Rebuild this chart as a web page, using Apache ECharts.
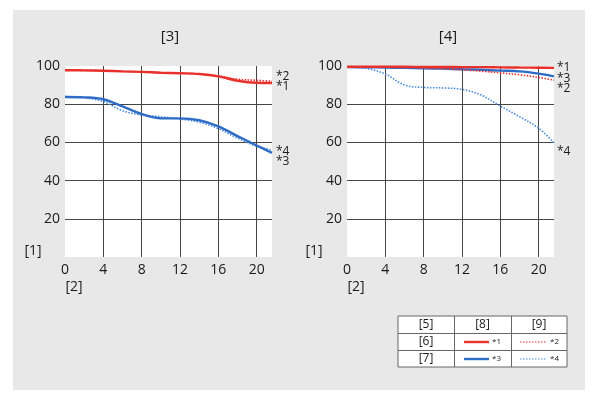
<!DOCTYPE html>
<html>
<head>
<meta charset="utf-8">
<script src="https://cdn.jsdelivr.net/npm/echarts@6/dist/echarts.min.js"></script>
<style>
html,body{margin:0;padding:0;background:#fff;}
#panel{position:absolute;left:13px;top:10px;width:572px;height:380px;background:#e8e8e8;}
#chart{position:absolute;left:0;top:0;width:600px;height:400px;}
</style>
</head>
<body>
<div id="panel"></div>
<div id="chart"></div>
<script>
// positions along image height (mm)
const xPos = [0, 2, 4, 6, 8, 10, 12, 14, 16, 18, 20, 21.6];
const xTicks = [0, 4, 8, 12, 16, 20];
const yTicks = [20, 40, 60, 80, 100];

// Left chart [3]
const left1 = [97.8, 97.7, 97.5, 97.2, 96.9, 96.5, 96.2, 95.8, 94.6, 92.3, 91.2, 91.1];
const left2 = [97.8, 97.7, 97.5, 97.2, 96.9, 96.5, 96.2, 95.8, 94.8, 93.1, 92.5, 92.0];
const left3 = [83.8, 83.6, 82.6, 78.8, 74.8, 72.6, 72.6, 71.6, 68.4, 63.3, 58.4, 54.5];
const left4 = [84.0, 83.4, 81.4, 76.6, 74.4, 73.4, 72.2, 70.6, 67.2, 62.2, 58.0, 56.0];

// Right chart [4]
const right1 = [99.6, 99.6, 99.6, 99.6, 99.5, 99.5, 99.4, 99.4, 99.3, 99.2, 99.1, 99.0];
const right2 = [99.5, 99.5, 99.4, 99.2, 99.0, 98.6, 98.0, 97.3, 96.4, 95.4, 94.0, 92.6];
const right3 = [99.4, 99.3, 99.2, 99.0, 98.8, 98.6, 98.3, 98.0, 97.6, 97.2, 96.0, 94.6];
const right4 = [99.6, 98.8, 95.8, 90.0, 88.8, 88.5, 87.8, 84.8, 79.0, 73.5, 67.4, 59.8];

const titles = ['[3]', '[4]'];
const yName = '[1]';
const xName = '[2]';
const tableHeader = ['[5]', '[8]', '[9]'];
const tableRows = ['[6]', '[7]'];
const seriesTags = ['*1', '*2', '*3', '*4'];

const RED = '#e8302c';
const BLUE = '#2e6cc6';
const BLUE_D = '#4a8bd8';
const FONT = '"Open Sans", "Noto Sans", sans-serif';

const pair = arr => arr.map((v, i) => [xPos[i], v]);

const grids = [
  {left: 65, top: 66, width: 207, height: 191},
  {left: 347, top: 66, width: 207, height: 191}
];

function xAxis(idx) {
  return {
    type: 'value', gridIndex: idx, min: 0, max: 21.6, interval: 4,
    axisLine: {show: false}, axisTick: {show: false},
    axisLabel: {color: '#1a1a1a', fontSize: 14, fontFamily: FONT, margin: 6,
      formatter: v => xTicks.includes(v) ? String(v) : ''},
    splitLine: {show: true, lineStyle: {color: ['rgba(0,0,0,0)', '#444', '#444', '#444', '#444', '#444', 'rgba(0,0,0,0)'], width: 1}}
  };
}
function yAxis(idx) {
  return {
    type: 'value', gridIndex: idx, min: 0, max: 100, interval: 20,
    axisLine: {show: false}, axisTick: {show: false},
    axisLabel: {color: '#1a1a1a', fontSize: 14, fontFamily: FONT, margin: 5,
      formatter: v => yTicks.includes(v) ? String(v) : ''},
    splitLine: {show: true, lineStyle: {color: ['rgba(0,0,0,0)', '#444', '#444', '#444', '#444', 'rgba(0,0,0,0)'], width: 1}}
  };
}
function line(idx, data, color, dotted) {
  return {
    type: 'line', xAxisIndex: idx, yAxisIndex: idx, data: pair(data),
    smooth: 0.35, symbol: 'none', silent: true,
    lineStyle: dotted ? {color: color, width: 1.6, type: [1.5, 1.5]} : {color: color, width: 2.4}
  };
}

const txt = (x, y, s, size, align) => ({
  type: 'text', x: x, y: y, silent: true,
  style: {text: s, fill: '#1a1a1a', font: size + 'px ' + FONT, textAlign: align || 'center', textVerticalAlign: 'middle'}
});

const graphic = [];
// titles
graphic.push(txt(170, 37, titles[0], 15));
graphic.push(txt(448, 37, titles[1], 15));
// axis names
graphic.push(txt(33, 251, yName, 14));
graphic.push(txt(74, 287, xName, 14));
graphic.push(txt(314, 251, yName, 14));
graphic.push(txt(356, 287, xName, 14));
// series tags left
graphic.push(txt(276, 77, seriesTags[1], 12, 'left'));
graphic.push(txt(276, 87, seriesTags[0], 12, 'left'));
graphic.push(txt(276, 152, seriesTags[3], 12, 'left'));
graphic.push(txt(276, 162, seriesTags[2], 12, 'left'));
// series tags right
graphic.push(txt(557, 68, seriesTags[0], 12, 'left'));
graphic.push(txt(557, 79, seriesTags[2], 12, 'left'));
graphic.push(txt(557, 89, seriesTags[1], 12, 'left'));
graphic.push(txt(557, 152, seriesTags[3], 12, 'left'));

// legend table
const tx0 = 398, ty0 = 316, tw = 169, th = 51;
const colX = [398, 454, 511, 567];
const rowY = [316, 333, 350, 367];
graphic.push({type: 'rect', shape: {x: tx0, y: ty0, width: tw, height: th}, style: {fill: '#fff', stroke: '#666', lineWidth: 1}, silent: true});
[333, 350].forEach(y => graphic.push({type: 'line', shape: {x1: tx0, y1: y + 0.5, x2: tx0 + tw, y2: y + 0.5}, style: {stroke: '#666', lineWidth: 1}, silent: true}));
[454, 511].forEach(x => graphic.push({type: 'line', shape: {x1: x + 0.5, y1: ty0, x2: x + 0.5, y2: ty0 + th}, style: {stroke: '#666', lineWidth: 1}, silent: true}));
const cellFont = 12;
tableHeader.forEach((s, i) => graphic.push(txt((colX[i] + colX[i + 1]) / 2, 325, s, cellFont)));
tableRows.forEach((s, i) => graphic.push(txt(426, (rowY[i + 1] + rowY[i + 2]) / 2, s, cellFont)));
function sample(x1, x2, y, color, dotted, tag) {
  graphic.push({type: 'line', shape: {x1: x1, y1: y, x2: x2, y2: y}, silent: true,
    style: dotted ? {stroke: color, lineWidth: 1.2, lineDash: [1.5, 1.5]} : {stroke: color, lineWidth: 2.4}});
  graphic.push(txt(x2 + 3, y, tag, 8, 'left'));
}
sample(464, 489, 342, RED, false, seriesTags[0]);
sample(520, 547, 342, RED, true, seriesTags[1]);
sample(464, 489, 359, BLUE, false, seriesTags[2]);
sample(520, 547, 359, BLUE_D, true, seriesTags[3]);

const chart = echarts.init(document.getElementById('chart'), null, {renderer: 'canvas'});
chart.setOption({
  animation: false,
  backgroundColor: 'transparent',
  grid: grids.map(g => Object.assign({show: true, backgroundColor: '#fff', borderWidth: 0}, g)),
  xAxis: [xAxis(0), xAxis(1)],
  yAxis: [yAxis(0), yAxis(1)],
  series: [
    line(0, left2, RED, true),
    line(0, left1, RED, false),
    line(0, left4, BLUE_D, true),
    line(0, left3, BLUE, false),
    line(1, right4, BLUE_D, true),
    line(1, right3, BLUE, false),
    line(1, right2, RED, true),
    line(1, right1, RED, false)
  ],
  graphic: graphic
});
</script>
</body>
</html>
